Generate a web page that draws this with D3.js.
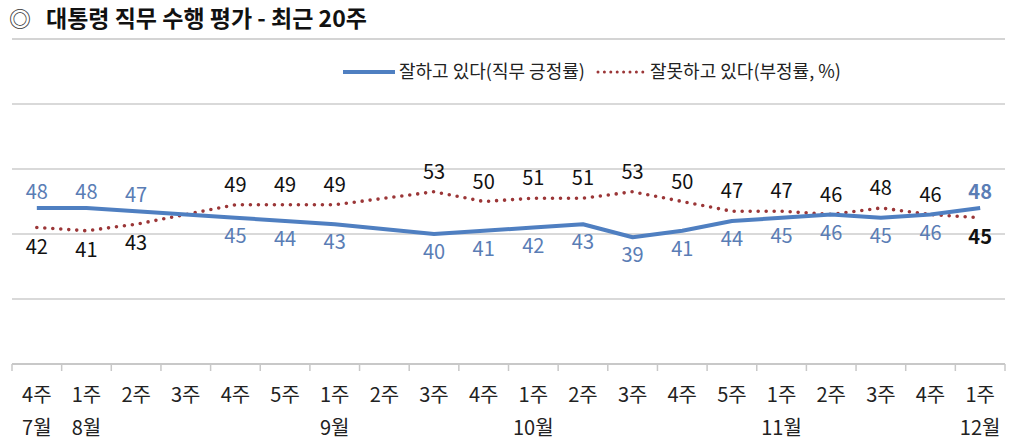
<html>
<head>
<meta charset="utf-8">
<title>대통령 직무 수행 평가</title>
<script src="https://d3js.org/d3.v7.min.js"></script>
<style>
  body { margin: 0; background: #fff; }
  text { font-family: "Noto Sans CJK KR", "Noto Sans", sans-serif; }
</style>
</head>
<body>
<svg class="line-chart"></svg>
<script>
    // weeks and months along the x axis
    var weeks = ['4주', '1주', '2주', '3주', '4주', '5주', '1주', '2주', '3주', '4주',
                 '1주', '2주', '3주', '4주', '5주', '1주', '2주', '3주', '4주', '1주'];
    var months = ['7월', '8월', '', '', '', '', '9월', '', '', '',
                  '10월', '', '', '', '', '11월', '', '', '', '12월'];
    // null = no survey that week
    var positive = [48, 48, 47, null, 45, 44, 43, null, 40, 41, 42, 43, 39, 41, 44, 45, 46, 45, 46, 48];
    var negative = [42, 41, 43, null, 49, 49, 49, null, 53, 50, 51, 51, 53, 50, 47, 47, 46, 48, 46, 45];
    var yTicks = [0, 20, 40, 60, 80];

    var svgWidth = 1024, svgHeight = 443;
    var blue = '#4f7fc1', blueText = '#5a7db5', red = '#9b3637';

    var svg = d3.select('svg')
        .attr('width', svgWidth)
        .attr('height', svgHeight);

    var xScale = d3.scaleBand()
        .domain(d3.range(weeks.length))
        .range([12, 1005]);

    var yScale = d3.scaleLinear()
        .domain([0, 80])
        .range([364, 104]);

    function cx(i) { return xScale(i) + xScale.bandwidth() / 2; }

    // title
    svg.append('text').attr('x', 9).attr('y', 27)
        .attr('font-size', 22).attr('fill', '#333').text('◎');
    svg.append('text').attr('x', 46).attr('y', 27)
        .attr('font-size', 23).attr('font-weight', 'bold').attr('fill', '#111')
        .text('대통령 직무 수행 평가 - 최근 20주');
    svg.append('line').attr('x1', 12).attr('x2', 1005).attr('y1', 39).attr('y2', 39)
        .attr('stroke', '#d4d4d4').attr('stroke-width', 2);

    // legend
    var legend = svg.append('g').attr('font-size', 18).attr('fill', '#222');
    legend.append('line').attr('x1', 343).attr('x2', 395).attr('y1', 72).attr('y2', 72)
        .attr('stroke', blue).attr('stroke-width', 4);
    legend.append('text').attr('x', 399).attr('y', 72).attr('dy', '0.35em')
        .text('잘하고 있다(직무 긍정률)');
    legend.append('line').attr('x1', 598).attr('x2', 643).attr('y1', 72).attr('y2', 72)
        .attr('stroke', red).attr('stroke-width', 3).attr('stroke-linecap', 'round')
        .attr('stroke-dasharray', '0 6.4');
    legend.append('text').attr('x', 650).attr('y', 72).attr('dy', '0.35em')
        .text('잘못하고 있다(부정률, %)');

    // gridlines
    svg.selectAll('.grid')
        .data(yTicks.filter(function (d) { return d > 0; }))
        .enter()
        .append('line')
        .attr('class', 'grid')
        .attr('x1', 12).attr('x2', 1005)
        .attr('y1', function (d) { return yScale(d); })
        .attr('y2', function (d) { return yScale(d); })
        .attr('stroke', '#d9d9d9').attr('stroke-width', 2);

    // x axis
    var xAxis = svg.append('g').attr('transform', 'translate(0,' + yScale(0) + ')');
    xAxis.append('line').attr('x1', 12).attr('x2', 1005)
        .attr('stroke', '#c8c8c8').attr('stroke-width', 2);
    xAxis.selectAll('.tick')
        .data(d3.range(weeks.length + 1))
        .enter()
        .append('line')
        .attr('x1', function (i) { return i < weeks.length ? xScale(i) : 1005; })
        .attr('x2', function (i) { return i < weeks.length ? xScale(i) : 1005; })
        .attr('y1', 0).attr('y2', 7)
        .attr('stroke', '#c8c8c8').attr('stroke-width', 1.5);
    xAxis.selectAll('.week')
        .data(weeks)
        .enter()
        .append('text')
        .attr('x', function (d, i) { return cx(i); })
        .attr('y', 31).attr('dy', '0.35em')
        .attr('text-anchor', 'middle').attr('font-size', 20).attr('fill', '#222')
        .text(function (d) { return d; });
    xAxis.selectAll('.month')
        .data(months)
        .enter()
        .append('text')
        .attr('x', function (d, i) { return cx(i); })
        .attr('y', 64).attr('dy', '0.35em')
        .attr('text-anchor', 'middle').attr('font-size', 20).attr('fill', '#222')
        .text(function (d) { return d; });

    // lines
    var line = d3.line()
        .x(function (d) { return cx(d.i); })
        .y(function (d) { return yScale(d.v); });

    function points(arr) {
        return arr.map(function (v, i) { return { i: i, v: v }; })
            .filter(function (d) { return d.v !== null; });
    }

    svg.append('path')
        .datum(points(negative))
        .attr('d', line)
        .attr('fill', 'none')
        .attr('stroke', red).attr('stroke-width', 3.6)
        .attr('stroke-linecap', 'round')
        .attr('stroke-dasharray', '0 8');

    svg.append('path')
        .datum(points(positive))
        .attr('d', line)
        .attr('fill', 'none')
        .attr('stroke', blue).attr('stroke-width', 4)
        .attr('stroke-linejoin', 'round');

    // labels: the higher series gets its label above, ties go to the negative series
    var last = weeks.length - 1;
    svg.selectAll('.pos-label')
        .data(points(positive))
        .enter()
        .append('text')
        .attr('x', function (d) { return cx(d.i); })
        .attr('y', function (d) {
            var above = d.v > negative[d.i];
            return yScale(d.v) + (above ? -16 : 18);
        })
        .attr('dy', '0.35em')
        .attr('text-anchor', 'middle').attr('font-size', 20)
        .attr('font-weight', function (d) { return d.i === last ? 'bold' : 'normal'; })
        .attr('fill', blueText)
        .text(function (d) { return d.v; });

    svg.selectAll('.neg-label')
        .data(points(negative))
        .enter()
        .append('text')
        .attr('x', function (d) { return cx(d.i); })
        .attr('y', function (d) {
            var above = d.v >= positive[d.i];
            return yScale(d.v) + (above ? -20 : 19);
        })
        .attr('dy', '0.35em')
        .attr('text-anchor', 'middle').attr('font-size', 20)
        .attr('font-weight', function (d) { return d.i === last ? 'bold' : 'normal'; })
        .attr('fill', '#111')
        .text(function (d) { return d.v; });
</script>
</body>
</html>
